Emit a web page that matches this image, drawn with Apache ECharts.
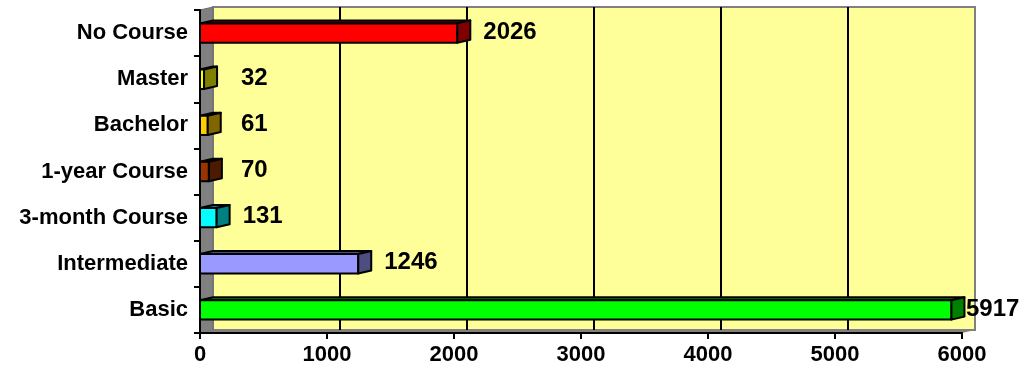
<!DOCTYPE html>
<html>
<head>
<meta charset="utf-8">
<script src="https://cdn.jsdelivr.net/npm/echarts@6/dist/echarts.min.js"></script>
<style>
  html, body { margin: 0; padding: 0; background: #fff; }
  #chart { width: 1030px; height: 372px; }
</style>
</head>
<body>
<div id="chart"></div>
<script>
// Education level of respondents (top to bottom)
const categories = ['No Course', 'Master', 'Bachelor', '1-year Course', '3-month Course', 'Intermediate', 'Basic'];
const counts = [2026, 32, 61, 70, 131, 1246, 5917];
const faceColors = ['#FF0000', '#FFFF00', '#FFCC00', '#993300', '#00FFFF', '#9999FF', '#00FF00'];
const endColors = ['#800000', '#808000', '#806600', '#4D1A00', '#008080', '#4D4D80', '#008000'];
const xTicks = [0, 1000, 2000, 3000, 4000, 5000, 6000];

// Depth of the pseudo-3D box (back plane offset)
const DX = 13, DY = -3;
const FONT = '"Liberation Sans", Arial, Helvetica, sans-serif';

const chart = echarts.init(document.getElementById('chart'));

// Back wall, left side wall, floor and the vertical gridlines on the back wall
function renderWalls(params, api) {
  const cs = params.coordSys;
  const x0 = cs.x, y0 = cs.y, x1 = cs.x + cs.width, y1 = cs.y + cs.height;
  const children = [];
  children.push({
    type: 'rect',
    shape: { x: x0 + DX, y: y0 + DY, width: cs.width, height: cs.height },
    style: { fill: '#FFFF99', stroke: '#808080', lineWidth: 2 }
  });
  children.push({
    type: 'polygon',
    shape: { points: [[x0, y0], [x0 + DX, y0 + DY], [x0 + DX, y1 + DY], [x0, y1]] },
    style: { fill: '#808080', stroke: '#6a6a6a', lineWidth: 1 }
  });
  children.push({
    type: 'polygon',
    shape: { points: [[x0, y1], [x0 + DX, y1 + DY], [x1 + DX, y1 + DY], [x1, y1]] },
    style: { fill: '#808080' }
  });
  xTicks.slice(1, -1).forEach(function (v) {
    const px = api.coord([v, 0])[0] + DX;
    children.push({
      type: 'line',
      shape: { x1: px, y1: y0 + DY, x2: px, y2: y1 + DY },
      style: { stroke: '#000', lineWidth: 2 }
    });
  });
  return { type: 'group', children: children };
}

// One 3D bar: front face, top face, end cap, and value label
function renderBar(params, api) {
  const i = params.dataIndex;
  const v = api.value(0);
  const cat = api.value(1);
  const start = api.coord([0, cat]);
  const end = api.coord([v, cat]);
  const h = api.size([0, 1])[1] * 0.42;
  const yt = start[1] - h / 2, yb = yt + h;
  const xs = start[0], xe = end[0];
  const border = { stroke: '#000', lineWidth: 2, lineJoin: 'round' };
  const lx = Math.min(Math.max(xe + 26, xs + 41), api.getWidth() - 64);
  return {
    type: 'group',
    children: [
      {
        type: 'polygon',
        shape: { points: [[xs, yt], [xs + DX, yt + DY], [xe + DX, yt + DY], [xe, yt]] },
        style: Object.assign({ fill: endColors[i] }, border)
      },
      {
        type: 'rect',
        shape: { x: xs, y: yt, width: xe - xs, height: h },
        style: Object.assign({ fill: faceColors[i] }, border)
      },
      {
        type: 'polygon',
        shape: { points: [[xe, yt], [xe + DX, yt + DY], [xe + DX, yb + DY], [xe, yb]] },
        style: Object.assign({ fill: endColors[i] }, border)
      },
      {
        type: 'text',
        x: lx,
        y: (yt + yb) / 2 - 1,
        style: {
          text: String(v),
          fill: '#000',
          font: 'bold 24px ' + FONT,
          align: 'left',
          verticalAlign: 'middle'
        }
      }
    ]
  };
}

const axisText = {
  color: '#000',
  fontFamily: FONT,
  fontWeight: 'bold',
  fontSize: 22
};

const option = {
  animation: false,
  backgroundColor: '#ffffff',
  grid: { left: 200, right: 68, top: 10, bottom: 39 },
  xAxis: {
    type: 'value',
    min: xTicks[0],
    max: xTicks[xTicks.length - 1],
    interval: 1000,
    z: 10,
    splitLine: { show: false },
    axisLine: { show: true, lineStyle: { color: '#000', width: 2 } },
    axisTick: { show: true, length: 6, lineStyle: { color: '#000', width: 2 } },
    axisLabel: Object.assign({
      margin: 11,
      formatter: function (v) { return String(v); }
    }, axisText)
  },
  yAxis: {
    type: 'category',
    inverse: true,
    data: categories,
    z: 10,
    splitLine: { show: false },
    axisLine: { show: true, lineStyle: { color: '#000', width: 2 } },
    axisTick: { show: true, length: 6, lineStyle: { color: '#000', width: 2 } },
    axisLabel: Object.assign({ margin: 12 }, axisText)
  },
  series: [
    {
      type: 'custom',
      name: 'walls',
      silent: true,
      z: 1,
      renderItem: renderWalls,
      data: [[0, 0]],
      encode: { x: 0, y: 1 }
    },
    {
      type: 'custom',
      name: 'Respondents',
      z: 3,
      renderItem: renderBar,
      data: counts.map(function (v, i) { return [v, i]; }),
      encode: { x: 0, y: 1 }
    }
  ]
};

chart.setOption(option);
</script>
</body>
</html>
